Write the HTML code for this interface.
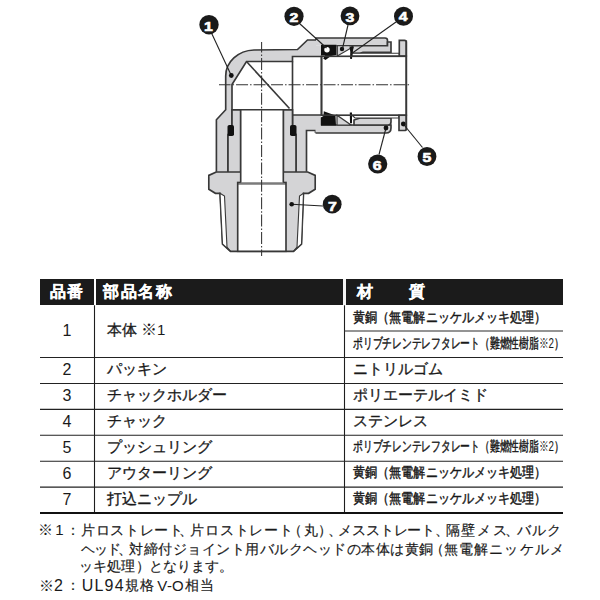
<!DOCTYPE html>
<html lang="ja">
<head>
<meta charset="utf-8">
<style>
html,body{margin:0;padding:0;background:#fff;}
body{width:600px;height:600px;position:relative;overflow:hidden;font-family:"Liberation Sans",sans-serif;color:#1a1a1a;}
.a{position:absolute;white-space:nowrap;line-height:18px;}
.t{-webkit-text-stroke:0.32px #1a1a1a;}
.th{-webkit-text-stroke:0.25px #fff;color:#fff;font-weight:bold;font-size:16px;letter-spacing:1.5px;}
.d{font-size:16px;width:30px;text-align:center;}
.n{font-size:15px;}
.c{transform-origin:0 0;}
.tn{-webkit-text-stroke:0.18px #1a1a1a;}
</style>
</head>
<body>
<svg class="a" style="left:0;top:0" width="600" height="270" viewBox="0 0 600 270">
<g stroke="#383838" stroke-width="1.65" stroke-linejoin="miter" fill="none">
  <!-- body silhouette -->
  <path fill="#d4d4d6" stroke="none" d="M216.4,171.7 L216.4,119.7 L225.7,109.7 L225.7,76 C225.7,62 238,50.5 254,50 L297.5,49.5 L307.5,40 L316,40 L316,45.7 L321,45.7 L321,133 L315.5,133 L315.5,130.5 L306.5,130.5 L306.5,171.7 Z"/>
  <path d="M216.4,171.7 L216.4,119.7 L225.7,109.7 L225.7,76 C225.7,62 238,50.5 254,50 L297.5,49.5 L307.5,40 L316,40"/>
  <path d="M306.5,171.7 L306.5,130.5 L315.5,130.5 L315.5,133"/>
  <!-- cavity -->
  <path fill="#fff" d="M228,171.7 L228,135.7 L232,125 L232,84.5 L246.5,61.5 L292.5,61.5 L292.5,56.5 L321.5,56.5 L321.5,115 L292.5,115 L292.5,125 L296,135.7 L296,171.7 Z"/>
  <path d="M246.5,61.5 L289.5,108.5"/>
  <line x1="292.5" y1="61.5" x2="292.5" y2="115"/>
  <!-- nipple upper walls -->
  <path fill="#d4d4d6" d="M232,109.7 L240.7,109.7 L240.7,181.7 L228,181.7 L228,135.7 L232,125 Z"/>
  <path fill="#d4d4d6" d="M292.5,109.7 L283.3,109.7 L283.3,181.7 L296,181.7 L296,135.7 L292.5,125 Z"/>
  <!-- flange + thread -->
  <path fill="#d4d4d6" d="M216.3,172 L208.8,175.4 L208.8,189.2 L215.4,193.3 L220,193.3 L222.5,244 L230.5,251.3 L293.5,251.3 L301.5,244 L303.5,193.3 L308.6,193.3 L315.2,189.2 L315.2,175.4 L307.7,172 Z"/>
  <path fill="#fff" stroke-width="1.1" d="M220,193.3 L224.5,196 L227,247 L230.5,251.3 L222.5,244 Z"/>
  <path fill="#fff" stroke-width="1.1" d="M303.5,193.3 L299.5,196 L297,247 L293.5,251.3 L301.5,244 Z"/>
  <!-- bores -->
  <rect x="237.7" y="182.5" width="48.3" height="68.8" fill="#fff"/>
  <rect x="240.7" y="109.7" width="42.6" height="72.8" fill="#fff" stroke="none"/>
  <line x1="240.7" y1="109.7" x2="240.7" y2="182.5"/>
  <line x1="283.3" y1="109.7" x2="283.3" y2="182.5"/>
  <line x1="232" y1="109.7" x2="292.5" y2="109.7"/>
  <line x1="237.7" y1="184" x2="286" y2="184" stroke-width="1"/>
  <!-- o-rings -->
  <rect x="227.5" y="125" width="6.5" height="11" rx="1.8" fill="#111" stroke="none"/>
  <rect x="290" y="125" width="6.5" height="11" rx="1.8" fill="#111" stroke="none"/>

  <!-- ===== right assembly: top ===== -->
  <path fill="#d4d4d6" stroke="none" d="M316,38 L385,38 Q387.5,38 387.5,40.5 L387.5,45.7 L316,45.7 Z"/><path d="M316,40 L316,38 L385,38 Q387.5,38 387.5,40.5 L387.5,45.7 L336.5,45.7"/>
  <path fill="#d4d4d6" d="M352,45.7 L387.5,45.7 L387.5,42 L391,42 L391,52.3 L363,52.3 L360,53.3 L352,53.3 Z"/>
  <path fill="#fff" stroke-width="1.1" d="M352,53.3 L399.3,53.3 L399.3,56 L352,56 Z"/>
  <path fill="#d4d4d6" d="M399.3,56 L399.3,40.3 L404.5,40.3 Q406.3,40.3 406.3,42 L406.3,56 Z"/>
  <path fill="#d4d4d6" stroke-width="1.2" d="M337.3,45.7 L337.3,56 L352,47.5 L352,45.7 Z"/>
  <path fill="#111" stroke="none" d="M321,44.8 L336.5,44.8 L336.5,55 L331,56 L325.5,60 L323.2,58.5 L325,55.5 L321,55.5 Z"/>
  <circle cx="327" cy="49.8" r="2.7" fill="#fff" stroke="none"/>
  <circle cx="342" cy="49" r="2.2" fill="#111" stroke="none"/>
  <path fill="#111" stroke="none" d="M349.5,46.5 L354,46.5 L352.5,52 L352,59 L350,58.7 L350.3,52 Z"/>

  <!-- ===== right assembly: bottom ===== -->
  <path fill="#d4d4d6" stroke="none" d="M315.5,133 L386,133 Q391,133 391,128 L391,125 L315.5,125 Z"/><path d="M315.5,133 L386,133 Q391,133 391,128 L391,125 L321,125"/>
  <path fill="#d4d4d6" d="M354,125 L388,125 Q391,125 391,122 L391,118 L363,118 L360,118 L354,120 Z"/>
  <path fill="#fff" stroke-width="1.1" d="M352,115.2 L399,115.2 L399,118 L355,118 Z"/>
  <path fill="#d4d4d6" d="M399,115.2 L399,130.5 L404.5,130.5 Q406.3,130.5 406.3,128.5 L406.3,115.2 Z"/>
  <path fill="#d4d4d6" stroke-width="1.2" d="M337,115.2 L337,125 L351,125 Z"/>
  <path fill="#111" stroke="none" d="M320.8,117.5 L323.5,116 L323.8,111.2 L335.5,115.4 L336,125.4 L320.8,125.4 Z"/>
  <path fill="#111" stroke="none" d="M349.8,112.5 L352,112.5 L352,123.3 L350,123.3 Z"/>

  <!-- tube -->
  <rect x="321.5" y="56.3" width="84.8" height="58.9" fill="none"/>
  <line x1="406.3" y1="40.5" x2="406.3" y2="130.5"/>

  <!-- center lines -->
  <g stroke="#333" stroke-width="1.05">
    <line x1="219" y1="84.8" x2="410" y2="84.8" stroke-dasharray="12,2,1.5,2" stroke-dashoffset="0.45"/>
    <line x1="261.6" y1="42" x2="261.6" y2="256" stroke-dasharray="12,2,1.5,1.9" stroke-dashoffset="1.4"/>
  </g>
  <!-- leaders -->
  <g stroke="#222" stroke-width="1.1">
    <line x1="211.5" y1="33" x2="231.3" y2="75.5"/>
    <line x1="299" y1="23" x2="326.5" y2="48"/>
    <line x1="348" y1="25" x2="342.5" y2="48.5"/>
    <line x1="396" y1="22" x2="351" y2="54"/>
    <line x1="422.5" y1="147.5" x2="403.3" y2="124"/>
    <line x1="379" y1="154.5" x2="386" y2="128"/>
    <line x1="323" y1="206" x2="291.7" y2="204.2"/>
  </g>
  <g fill="#111" stroke="none">
    <circle cx="231.3" cy="75.5" r="2.4"/>
    <circle cx="403.3" cy="124" r="2.4"/>
    <circle cx="386" cy="128" r="2.4"/>
    <circle cx="291.7" cy="204.2" r="2.3"/>
  </g>
</g>
<!-- callouts -->
<g fill="#1a1a1a">
  <circle cx="209" cy="24.7" r="9.7"/>
  <circle cx="294" cy="16.3" r="9.6"/>
  <circle cx="350" cy="15.9" r="9.4"/>
  <circle cx="403.5" cy="16.2" r="9.5"/>
  <circle cx="427" cy="156.5" r="9.4"/>
  <circle cx="377.7" cy="164" r="9.6"/>
  <circle cx="332.2" cy="204.2" r="9.4"/>
</g>
<g fill="#fff" stroke="#fff" stroke-width="0.6" font-family="Liberation Sans" font-weight="bold" font-size="13" text-anchor="middle">
  <text transform="translate(208.5,31.15) scale(1.22,1)">1</text>
  <text transform="translate(293.9,21.549999999999997) scale(1.22,1)">2</text>
  <text transform="translate(350,21.65) scale(1.22,1)">3</text>
  <text transform="translate(403.2,21.15) scale(1.22,1)">4</text>
  <text transform="translate(427,161.85) scale(1.22,1)">5</text>
  <text transform="translate(377.2,169.65) scale(1.22,1)">6</text>
  <text transform="translate(332.3,210.65) scale(1.22,1)">7</text>
</g>
</svg>
<div class="a" style="left:39.5px;top:279.3px;width:523.5px;height:26px;background:#1b1b1b;"></div>
<div class="a" style="left:94px;top:279.3px;width:2px;height:26px;background:#fff;"></div>
<div class="a" style="left:343.2px;top:279.3px;width:2.6px;height:26px;background:#f4f4f4;"></div>
<div class="a th" style="left:49.5px;top:283.0px;">品番</div>
<div class="a th" style="left:103.3px;top:283.0px;">部品名称</div>
<div class="a th" style="left:357px;top:283.0px;">材</div>
<div class="a th" style="left:408.5px;top:283.0px;">質</div>
<svg class="a" style="left:0;top:0" width="600" height="600"><line x1="94.5" y1="305.3" x2="94.5" y2="513" stroke="#1e1e1e" stroke-width="1.1"/><line x1="344.5" y1="305.3" x2="344.5" y2="513" stroke="#1e1e1e" stroke-width="1.1"/><line x1="344" y1="331" x2="563" y2="331" stroke="#2a2a2a" stroke-width="1.1"/><line x1="40" y1="357.50" x2="563" y2="357.50" stroke="#222" stroke-width="1.1"/><line x1="40" y1="383.43" x2="563" y2="383.43" stroke="#222" stroke-width="1.1"/><line x1="40" y1="409.36" x2="563" y2="409.36" stroke="#222" stroke-width="1.1"/><line x1="40" y1="435.29" x2="563" y2="435.29" stroke="#222" stroke-width="1.1"/><line x1="40" y1="461.22" x2="563" y2="461.22" stroke="#222" stroke-width="1.1"/><line x1="40" y1="487.15" x2="563" y2="487.15" stroke="#222" stroke-width="1.1"/><line x1="40" y1="513.1" x2="563" y2="513.1" stroke="#111" stroke-width="2"/></svg>
<div class="a d" style="left:52px;top:321.80px;">1</div>
<div class="a d" style="left:52px;top:361.00px;">2</div>
<div class="a d" style="left:52px;top:386.93px;">3</div>
<div class="a d" style="left:52px;top:412.86px;">4</div>
<div class="a d" style="left:52px;top:438.79px;">5</div>
<div class="a d" style="left:52px;top:464.72px;">6</div>
<div class="a d" style="left:52px;top:490.65px;">7</div>
<div class="a t n" style="left:106.5px;top:320.80px;">本体 <span style="-webkit-text-stroke:0"><span style="font-size:16px;letter-spacing:0.4px">※</span>1</span></div>
<div class="a t n" style="left:106.5px;top:360.20px;">パッキン</div>
<div class="a t n" style="left:106.5px;top:386.13px;">チャックホルダー</div>
<div class="a t n" style="left:106.5px;top:412.06px;">チャック</div>
<div class="a t n" style="left:106.5px;top:437.99px;">プッシュリング</div>
<div class="a t n" style="left:106.5px;top:463.92px;">アウターリング</div>
<div class="a t n" style="left:106.5px;top:489.85px;">打込ニップル</div>
<div class="a t c" style="left:353px;top:308.00px;font-size:14px;transform:scaleX(0.864);-webkit-text-stroke:0.45px #1a1a1a;">黄銅（無電解ニッケルメッキ処理）</div>
<div class="a t c" style="left:353px;top:333.90px;font-size:14px;transform:scaleX(0.698);-webkit-text-stroke:0.45px #1a1a1a;">ポリブチレンテレフタレート（難燃性樹脂<span style="-webkit-text-stroke:0">※2</span>）</div>
<div class="a t c" style="left:353px;top:360.20px;font-size:15px;">ニトリルゴム</div>
<div class="a t c" style="left:353px;top:386.13px;font-size:15px;">ポリエーテルイミド</div>
<div class="a t c" style="left:353px;top:412.06px;font-size:15px;">ステンレス</div>
<div class="a t c" style="left:353px;top:437.40px;font-size:14px;transform:scaleX(0.698);-webkit-text-stroke:0.45px #1a1a1a;">ポリブチレンテレフタレート（難燃性樹脂<span style="-webkit-text-stroke:0">※2</span>）</div>
<div class="a t c" style="left:353px;top:463.40px;font-size:14px;transform:scaleX(0.864);-webkit-text-stroke:0.45px #1a1a1a;">黄銅（無電解ニッケルメッキ処理）</div>
<div class="a t c" style="left:353px;top:489.40px;font-size:14px;transform:scaleX(0.864);-webkit-text-stroke:0.45px #1a1a1a;">黄銅（無電解ニッケルメッキ処理）</div>
<div class="a" style="left:38.3px;top:520.80px;font-size:15px;letter-spacing:0.0px;">※</div>
<div class="a" style="left:55.3px;top:520.80px;font-size:15px;letter-spacing:0.0px;">1</div>
<div class="a tn" style="left:65.5px;top:521.15px;font-size:14px;letter-spacing:0.0px;">：</div>
<div class="a tn" style="left:81.0px;top:521.15px;font-size:14px;letter-spacing:0.667px;">片ロストレート</div>
<div class="a tn" style="left:179.3px;top:521.15px;font-size:14px;letter-spacing:0.0px;">、</div>
<div class="a tn" style="left:190.3px;top:521.15px;font-size:14px;letter-spacing:0.783px;">片ロストレート</div>
<div class="a tn" style="left:288.3px;top:521.15px;font-size:14px;letter-spacing:0.0px;">（</div>
<div class="a tn" style="left:303.8px;top:521.15px;font-size:14px;letter-spacing:0.0px;">丸</div>
<div class="a tn" style="left:317.7px;top:521.15px;font-size:14px;letter-spacing:0.0px;">）</div>
<div class="a tn" style="left:327.7px;top:521.15px;font-size:14px;letter-spacing:0.0px;">、</div>
<div class="a tn" style="left:337.8px;top:521.15px;font-size:14px;letter-spacing:-0.067px;">メスストレート</div>
<div class="a tn" style="left:434.7px;top:521.15px;font-size:14px;letter-spacing:0.0px;">、</div>
<div class="a tn" style="left:445.7px;top:521.15px;font-size:14px;letter-spacing:1.767px;">隔壁メス</div>
<div class="a tn" style="left:505.3px;top:521.15px;font-size:14px;letter-spacing:0.0px;">、</div>
<div class="a tn" style="left:517.3px;top:521.15px;font-size:14px;letter-spacing:0.7px;">バルク</div>
<div class="a tn" style="left:81.3px;top:539.65px;font-size:14px;letter-spacing:-1.3px;">ヘッド</div>
<div class="a tn" style="left:118.0px;top:539.65px;font-size:14px;letter-spacing:0.0px;">、</div>
<div class="a tn" style="left:129.3px;top:539.65px;font-size:14px;letter-spacing:0.5px;">対締付ジョイント用バルクヘッドの本体は黄銅</div>
<div class="a tn" style="left:430.3px;top:539.65px;font-size:14px;letter-spacing:0.0px;">（</div>
<div class="a tn" style="left:444.0px;top:539.65px;font-size:14px;letter-spacing:1.114px;">無電解ニッケルメ</div>
<div class="a tn" style="left:79.3px;top:556.85px;font-size:14px;letter-spacing:0.0px;">ッキ処理</div>
<div class="a tn" style="left:136.0px;top:556.85px;font-size:14px;letter-spacing:0.0px;">）</div>
<div class="a tn" style="left:148.7px;top:556.85px;font-size:14px;letter-spacing:0.06px;">となります。</div>
<div class="a" style="left:38.5px;top:577.30px;font-size:15px;letter-spacing:0.0px;">※</div>
<div class="a" style="left:54.0px;top:576.96px;font-size:16px;letter-spacing:0.0px;">2</div>
<div class="a tn" style="left:65.5px;top:575.65px;font-size:14px;letter-spacing:0.0px;">：</div>
<div class="a" style="left:81.7px;top:576.96px;font-size:16px;letter-spacing:1.2px;">UL94</div>
<div class="a tn" style="left:125.0px;top:575.65px;font-size:14px;letter-spacing:1.0px;">規格</div>
<div class="a" style="left:157.3px;top:577.30px;font-size:15px;letter-spacing:0.0px;">V</div>
<div class="a" style="left:167.0px;top:577.30px;font-size:15px;letter-spacing:0.0px;">-</div>
<div class="a" style="left:172.0px;top:577.30px;font-size:15px;letter-spacing:0.0px;">O</div>
<div class="a tn" style="left:184.5px;top:575.65px;font-size:14px;letter-spacing:1.5px;">相当</div>
</body>
</html>
